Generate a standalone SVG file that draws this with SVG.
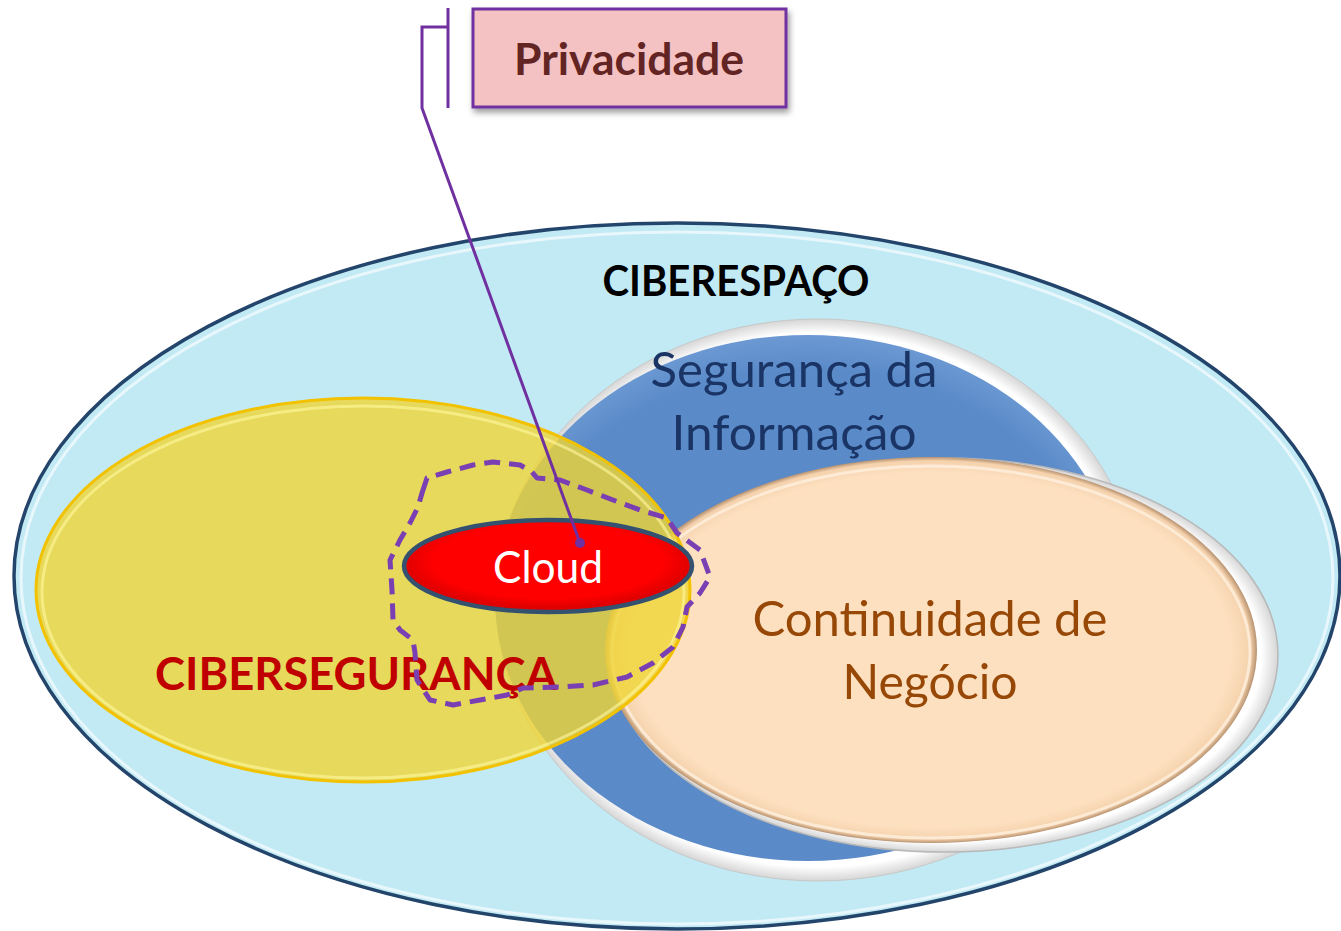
<svg xmlns="http://www.w3.org/2000/svg" width="1341" height="931" viewBox="0 0 1341 931">
<defs>
  <style>
    .lbl{font-family:Lato,"Open Sans","Liberation Sans",sans-serif;text-anchor:middle}
    .b{font-weight:bold}
  </style>
  <radialGradient id="gBlue" cx="0.5" cy="0.55" r="0.55">
    <stop offset="0.88" stop-color="#5a8ac8"/>
    <stop offset="1" stop-color="#6c99d3"/>
  </radialGradient>
  <radialGradient id="gPeach" cx="0.5" cy="0.5" r="0.5">
    <stop offset="0.92" stop-color="#fde0c0"/>
    <stop offset="0.98" stop-color="#f5d2ad"/>
    <stop offset="1" stop-color="#b89270"/>
  </radialGradient>
  <radialGradient id="gRing" cx="0.5" cy="0.5" r="0.5">
    <stop offset="0.95" stop-color="#ffffff"/>
    <stop offset="1" stop-color="#d6d6d6"/>
  </radialGradient>
  <radialGradient id="gRed" cx="0.5" cy="0.45" r="0.5">
    <stop offset="0.8" stop-color="#ff0000"/>
    <stop offset="1" stop-color="#e00000"/>
  </radialGradient>
  <filter id="sh" x="-10%" y="-10%" width="130%" height="140%">
    <feGaussianBlur in="SourceAlpha" stdDeviation="3"/>
    <feOffset dx="2" dy="4"/>
    <feComponentTransfer><feFuncA type="linear" slope="0.4"/></feComponentTransfer>
    <feMerge><feMergeNode/><feMergeNode in="SourceGraphic"/></feMerge>
  </filter>
</defs>
<rect width="1341" height="931" fill="#ffffff"/>

<g id="ciberespaco">
  <ellipse cx="677" cy="576" rx="663" ry="353" fill="#c2eaf4" stroke="#24456b" stroke-width="3.5"/>
  <ellipse cx="677" cy="578" rx="656" ry="346" fill="none" stroke="#ffffff" stroke-width="3" opacity="0.6"/>
  <text class="lbl b" x="736" y="296" font-size="42" fill="#000000" textLength="267" lengthAdjust="spacingAndGlyphs">CIBERESPAÇO</text>
</g>

<g id="seguranca-informacao">
  <ellipse cx="818" cy="600" rx="322" ry="281" fill="url(#gRing)" stroke="#c8c8c8" stroke-width="1"/>
  <ellipse cx="808" cy="598" rx="313" ry="263" fill="url(#gBlue)"/>
  <text class="lbl" x="794" y="387" font-size="48" fill="#1a3565" textLength="287" lengthAdjust="spacingAndGlyphs">Segurança da</text>
  <text class="lbl" x="794" y="450" font-size="48" fill="#1a3565" textLength="245" lengthAdjust="spacingAndGlyphs">Informação</text>
</g>

<g id="continuidade-negocio">
  <ellipse cx="944" cy="655" rx="334" ry="197" fill="url(#gRing)" stroke="#b8b8b8" stroke-width="1.5"/>
  <ellipse cx="931" cy="650" rx="326" ry="193" fill="url(#gPeach)"/>
  <ellipse cx="931" cy="652" rx="319" ry="186" fill="none" stroke="#fff4e6" stroke-width="3" opacity="0.7"/>
  <text class="lbl" x="930" y="636" font-size="48" fill="#974806" textLength="355" lengthAdjust="spacingAndGlyphs">Continuidade de</text>
  <text class="lbl" x="930" y="699" font-size="48" fill="#974806" textLength="175" lengthAdjust="spacingAndGlyphs">Negócio</text>
</g>

<g id="ciberseguranca">
  <ellipse cx="363" cy="590" rx="327" ry="192" fill="#efd434" fill-opacity="0.8" stroke="#f2c200" stroke-width="3"/>
  <ellipse cx="363" cy="592" rx="321" ry="186" fill="none" stroke="#fff8a0" stroke-width="3" opacity="0.6"/>
  <text class="lbl b" x="356" y="690" font-size="45" fill="#c00000" textLength="402" lengthAdjust="spacingAndGlyphs">CIBERSEGURANÇA</text>
</g>

<g id="privacidade-area">
  <path d="M422,493 L427,478 L447,472 L473,465 L493,462 L520,465 L532,472 L537,478 L560,480 L587,490 L613,500 L640,510 L667,518 L677,533 L700,550 L710,577 L700,593 L687,607 L683,627 L673,647 L653,663 L627,677 L593,685 L560,687 L523,688 L507,695 L480,700 L453,705 L430,700 L417,680 L415,653 L413,640 L400,630 L393,620 L392,590 L390,560 L400,540 L410,523 L418,507 Z" fill="none" stroke="#7a3fb2" stroke-width="5" stroke-dasharray="16 9" stroke-linejoin="round"/>
</g>

<g id="cloud">
  <ellipse cx="548" cy="566" rx="144" ry="46" fill="url(#gRed)" stroke="#34516f" stroke-width="4.5"/>
  <text class="lbl" x="548" y="583" font-size="44" fill="#ffffff" textLength="110" lengthAdjust="spacingAndGlyphs">Cloud</text>
</g>

<g id="privacidade">
  <rect x="473" y="9" width="313" height="98" fill="#f4c2c2" stroke="#7030a0" stroke-width="3" filter="url(#sh)"/>
  <text class="lbl b" x="629" y="75" font-size="44" fill="#632523" textLength="230" lengthAdjust="spacingAndGlyphs">Privacidade</text>
</g>

<g id="connectors" fill="none" stroke="#7030a0" stroke-width="3">
  <line x1="448" y1="8" x2="448" y2="108"/>
  <polyline points="448,27 422,27 422,108 580,543"/>
  <circle cx="580" cy="543" r="5" fill="#7030a0" stroke="none"/>
</g>
</svg>
